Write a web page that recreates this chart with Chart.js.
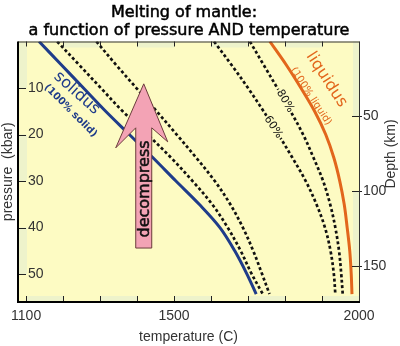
<!DOCTYPE html>
<html>
<head>
<meta charset="utf-8">
<script src="https://cdn.jsdelivr.net/npm/chart.js@4"></script>
<style>
  body { margin: 0; background: #fff; }
  #wrap { width: 400px; height: 346px; }
</style>
</head>
<body>
<div id="wrap"><canvas id="meltChart" width="400" height="346"></canvas></div>
<script>
const pressure = [0, 5, 10, 15, 20, 25, 30, 35, 40, 45, 50, 54.3];
// temperature (C) of each curve at those pressures
const solidusT  = [1135, 1195, 1255, 1315, 1379, 1443, 1505, 1568, 1624, 1664, 1697, 1722];
const melt20T   = [1184, 1243, 1302, 1361, 1428, 1492, 1550, 1603, 1645, 1680, 1710, 1740];
const melt40T   = [1290, 1343, 1398, 1453, 1507, 1560, 1610, 1652, 1686, 1714, 1738, 1758];
const melt60T   = [1608, 1655, 1700, 1742, 1782, 1820, 1856, 1885, 1908, 1923, 1932, 1936];
const melt80T   = [1705, 1742, 1779, 1815, 1849, 1877, 1903, 1922, 1936, 1946, 1952, 1956];
const liquidusT = [1759, 1803, 1843, 1880, 1910, 1932, 1948, 1960, 1968, 1975, 1979, 1981];

// axes
const tempTicks = [1100, 1200, 1300, 1400, 1500, 1600, 1700, 1800, 1900, 2000];
const tempLabels = [1100, 1500, 2000];
const pressureTicks = [10, 20, 30, 40, 50];
const depthTicks = [50, 100, 150];

const titleLines = ['Melting of mantle:', 'a function of pressure AND temperature'];

// decompression arrow (temperature, pressure range)
const arrowT = 1418, arrowTipP = 9.1, arrowBaseP = 44.4;

const pts = (temps) => pressure.map((p, i) => ({ x: temps[i], y: p }));

const FONT = "'Liberation Sans', Arial, sans-serif";
const NAVY = '#1f3c8a';
const ORANGE = '#e2661c';
const YELLOW = '#fdfbc3';

// text labels sitting on the curves: [text, T, P, angle, font, colour, box behind]
const curveLabels = [
  ['solidus', 1237, 11.1, 42, "16px 'DejaVu Sans'", NAVY, false],
  ['(100% solid)', 1220, 14.9, 45, "bold 10px 'DejaVu Sans'", NAVY, false],
  ['liquidus', 1912, 8.2, 57, "16px 'DejaVu Sans'", ORANGE, false],
  ['(100% liquid)', 1870, 11.8, 57, "10px 'DejaVu Sans'", ORANGE, false],
  ['80%', 1800, 12.8, 60, "11px 'DejaVu Sans'", '#111', true],
  ['60%', 1768, 18.4, 56, "11px 'DejaVu Sans'", '#111', true]
];

function rotText(ctx, str, px, py, deg, font, color, bg, heavy) {
  ctx.save();
  ctx.translate(px, py);
  ctx.rotate(deg * Math.PI / 180);
  ctx.font = font;
  ctx.textAlign = 'center';
  ctx.textBaseline = 'middle';
  if (bg) {
    const w = ctx.measureText(str).width;
    ctx.fillStyle = bg;
    ctx.fillRect(-w / 2 - 1, -6, w + 2, 12);
  }
  ctx.fillStyle = color;
  ctx.fillText(str, 0, 0);
  if (heavy) {
    ctx.strokeStyle = color;
    ctx.lineWidth = 0.5;
    ctx.strokeText(str, 0, 0);
  }
  ctx.restore();
}

const decor = {
  id: 'decor',
  beforeDraw(chart) {
    const { ctx, chartArea: a, scales: { x, y, depth } } = chart;
    ctx.save();
    ctx.fillStyle = YELLOW;
    ctx.fillRect(a.left, a.top, a.right - a.left, a.bottom - a.top);
    ctx.fillStyle = '#eef3cb';
    for (let i = 0; i < tempTicks.length - 1; i++) {
      const x0 = x.getPixelForValue(tempTicks[i]);
      const x1 = x.getPixelForValue(tempTicks[i + 1]);
      if (i % 2 === 0) ctx.fillRect(x0, a.bottom - 6, x1 - x0, 6);
      else ctx.fillRect(x0, a.top, x1 - x0, 6);
    }
    [[0, 10], [20, 30], [40, 50]].forEach(([p0, p1]) => {
      const y0 = y.getPixelForValue(p0), y1 = y.getPixelForValue(p1);
      ctx.fillRect(a.left, y0, 9, y1 - y0);
    });
    [[0, 50], [100, 150]].forEach(([d0, d1]) => {
      const y0 = depth.getPixelForValue(d0), y1 = depth.getPixelForValue(d1);
      ctx.fillRect(a.right - 6, y0, 6, y1 - y0);
    });

    // two-line title, centred a little left of the canvas middle like the original
    rotText(ctx, titleLines[0], 184, 13, 0, "16px 'DejaVu Sans'", '#000', null, true);
    rotText(ctx, titleLines[1], 189, 31, 0, "16px 'DejaVu Sans'", '#000', null, true);
    ctx.restore();
  },
  afterDatasetsDraw(chart) {
    const { ctx, chartArea: a, scales: { x, y, depth } } = chart;
    ctx.save();

    // tick marks, drawn inwards
    ctx.strokeStyle = '#222';
    ctx.lineWidth = 1;
    ctx.beginPath();
    tempTicks.forEach(v => {
      const px = Math.round(x.getPixelForValue(v)) + 0.5;
      ctx.moveTo(px, a.bottom); ctx.lineTo(px, a.bottom - 6);
      ctx.moveTo(px, a.top); ctx.lineTo(px, a.top + 5);
    });
    pressureTicks.forEach(v => {
      const py = Math.round(y.getPixelForValue(v)) + 0.5;
      ctx.moveTo(a.left, py); ctx.lineTo(a.left + 8, py);
    });
    depthTicks.forEach(v => {
      const py = Math.round(depth.getPixelForValue(v)) + 0.5;
      ctx.moveTo(a.right - 7, py); ctx.lineTo(a.right + 3, py);
    });
    ctx.stroke();

    // frame
    ctx.strokeStyle = '#333';
    ctx.beginPath();
    ctx.moveTo(a.left, a.top + 0.5); ctx.lineTo(a.right + 0.5, a.top + 0.5);
    ctx.lineTo(a.right + 0.5, a.bottom);
    ctx.stroke();
    ctx.strokeStyle = '#000';
    ctx.lineWidth = 2;
    ctx.beginPath();
    ctx.moveTo(a.left, a.top); ctx.lineTo(a.left, a.bottom); ctx.lineTo(a.right + 1, a.bottom);
    ctx.stroke();

    // decompress arrow
    const xa = x.getPixelForValue(arrowT);
    const yTip = y.getPixelForValue(arrowTipP);
    const yBase = y.getPixelForValue(arrowBaseP);
    const sw = 8;
    ctx.beginPath();
    ctx.moveTo(xa, yTip);
    ctx.lineTo(xa + 24, yTip + 58);
    ctx.lineTo(xa + sw, yTip + 44);
    ctx.lineTo(xa + sw, yBase);
    ctx.lineTo(xa - sw, yBase);
    ctx.lineTo(xa - sw, yTip + 44);
    ctx.lineTo(xa - 28, yTip + 64);
    ctx.closePath();
    ctx.fillStyle = '#f3a3b5';
    ctx.fill();
    ctx.strokeStyle = '#6b3c3c';
    ctx.lineWidth = 1;
    ctx.stroke();
    rotText(ctx, 'decompress', xa + 1, (yTip + 44 + yBase) / 2 + 1, -90, "16px 'DejaVu Sans'", '#111', null, true);

    curveLabels.forEach(([str, t, p, deg, font, color, box]) => {
      rotText(ctx, str, x.getPixelForValue(t), y.getPixelForValue(p), deg, font, color, box ? YELLOW : null);
    });

    // right axis title reads bottom to top
    rotText(ctx, 'Depth (km)', 391, 154, -90, '14px ' + FONT, '#333', null);
    ctx.restore();
  }
};

const solid = (label, temps, color) => ({
  label, data: pts(temps), showLine: true, borderColor: color, borderWidth: 3,
  pointRadius: 0, tension: 0.35, fill: false
});
const dashed = (label, temps) => ({
  label, data: pts(temps), showLine: true, borderColor: '#111', borderWidth: 2.7,
  borderDash: [3, 2.5], pointRadius: 0, tension: 0.35, fill: false
});

const meltCtx = document.getElementById('meltChart').getContext('2d');
const meltChart = new Chart(meltCtx, {
  type: 'scatter',
  data: {
    datasets: [
      dashed('20%', melt20T),
      dashed('40%', melt40T),
      dashed('60%', melt60T),
      dashed('80%', melt80T),
      solid('solidus', solidusT, NAVY),
      solid('liquidus', liquidusT, ORANGE)
    ]
  },
  options: {
    responsive: false,
    animation: false,
    layout: { padding: { top: 41.5 } },
    scales: {
      x: {
        type: 'linear', position: 'bottom', min: 1078, max: 2000,
        afterBuildTicks: s => { s.ticks = tempLabels.map(v => ({ value: v })); },
        afterFit: s => { s.height = 44; },
        grid: { display: false, drawTicks: false }, border: { display: false },
        ticks: { color: '#333', font: { family: FONT, size: 14 }, padding: 6, maxRotation: 0, callback: v => String(v) },
        title: { display: true, text: 'temperature (C)', color: '#333', font: { family: FONT, size: 14 }, padding: { top: 0, bottom: 0 } }
      },
      y: {
        type: 'linear', position: 'left', reverse: true, min: 0, max: 56,
        afterBuildTicks: s => { s.ticks = pressureTicks.map(v => ({ value: v })); },
        afterFit: s => { s.width = 18; },
        grid: { display: false, drawTicks: false }, border: { display: false },
        ticks: { mirror: true, padding: 10, color: '#333', font: { family: FONT, size: 14 }, callback: v => String(v) },
        title: { display: true, text: 'pressure  (kbar)', color: '#333', font: { family: FONT, size: 14 }, padding: 0 }
      },
      depth: {
        type: 'linear', position: 'right', reverse: true, min: 0, max: 174,
        afterBuildTicks: s => { s.ticks = depthTicks.map(v => ({ value: v })); },
        afterFit: s => { s.width = 41; },
        grid: { display: false, drawTicks: false }, border: { display: false },
        ticks: { padding: 4, color: '#333', font: { family: FONT, size: 14 }, callback: v => String(v) }
      }
    },
    plugins: {
      legend: { display: false },
      tooltip: { enabled: false },
      title: { display: false }
    }
  },
  plugins: [decor]
});
</script>
</body>
</html>
